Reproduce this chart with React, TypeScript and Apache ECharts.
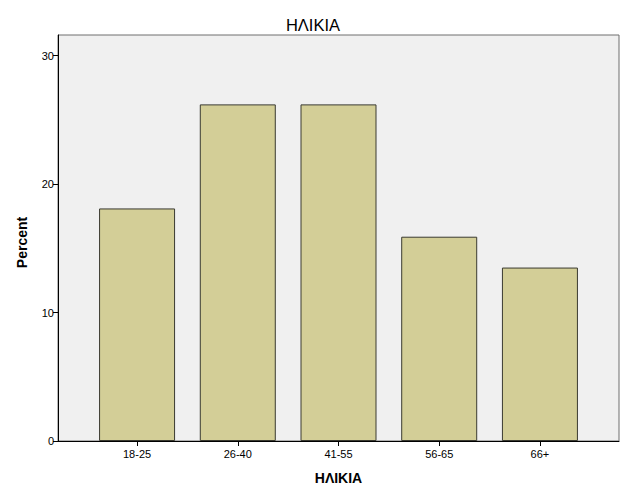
import React, { useEffect, useRef } from "react";
import * as echarts from "echarts";

const categories = ["18-25", "26-40", "41-55", "56-65", "66+"];
const percentValues = [18.1, 26.2, 26.2, 15.9, 13.5];
const yTicks = [0, 10, 20, 30];
const titleText = "ΗΛΙΚΙΑ";
const xAxisTitle = "ΗΛΙΚΙΑ";
const yAxisTitle = "Percent";

const FONT = "'Liberation Sans', Arial, Helvetica, sans-serif";

export default function App() {
  const ref = useRef<HTMLDivElement>(null);
  useEffect(() => {
    if (!ref.current) return;
    const chart = echarts.init(ref.current, undefined, { renderer: "svg" });
    const idx = categories.map((_, i) => i);
    chart.setOption({
      animation: false,
      backgroundColor: "#ffffff",
      title: {
        text: titleText,
        left: "center",
        top: 11,
        textStyle: { fontFamily: FONT, fontSize: 16.5, fontWeight: "normal", color: "#000" },
      },
      grid: {
        left: 58,
        top: 35,
        right: 7,
        bottom: 60,
        show: true,
        backgroundColor: "#F0F0F0",
        borderColor: "#6e6e6e",
        borderWidth: 1,
      },
      xAxis: {
        type: "value",
        min: -0.785,
        max: 4.785,
        splitLine: { show: false },
        axisLine: { show: true, onZero: false, lineStyle: { color: "#000", width: 1 } },
        axisTick: { show: true, customValues: idx, length: 5, lineStyle: { color: "#000" } },
        axisLabel: {
          customValues: idx,
          formatter: (v: number) => categories[Math.round(v)] ?? "",
          fontFamily: FONT,
          fontSize: 11,
          color: "#000",
          margin: 7,
        },
        name: xAxisTitle,
        nameLocation: "middle",
        nameGap: 30,
        nameTextStyle: { fontFamily: FONT, fontSize: 14, fontWeight: "bold", color: "#000" },
      },
      yAxis: {
        type: "value",
        min: 0,
        max: 31.6,
        interval: 10,
        splitLine: { show: false },
        axisLine: { show: true, onZero: false, lineStyle: { color: "#000", width: 1 } },
        axisTick: { show: true, customValues: yTicks, length: 5, lineStyle: { color: "#000" } },
        axisLabel: {
          customValues: yTicks,
          fontFamily: FONT,
          fontSize: 11,
          color: "#000",
          margin: 4,
        },
        name: yAxisTitle,
        nameLocation: "middle",
        nameRotate: 90,
        nameGap: 29,
        nameTextStyle: {
          fontFamily: FONT,
          fontSize: 14,
          fontWeight: "bold",
          color: "#000",
          padding: [0, 9, 0, 0],
        },
      },
      series: [
        {
          type: "bar",
          data: percentValues.map((v, i) => [i, v]),
          barWidth: 76,
          itemStyle: { color: "#D3CE97", borderColor: "#3a3a30", borderWidth: 1 },
        },
      ],
    });
    return () => chart.dispose();
  }, []);
  return <div ref={ref} style={{ width: 626, height: 501, position: "absolute", left: 0, top: 0 }} />;
}
